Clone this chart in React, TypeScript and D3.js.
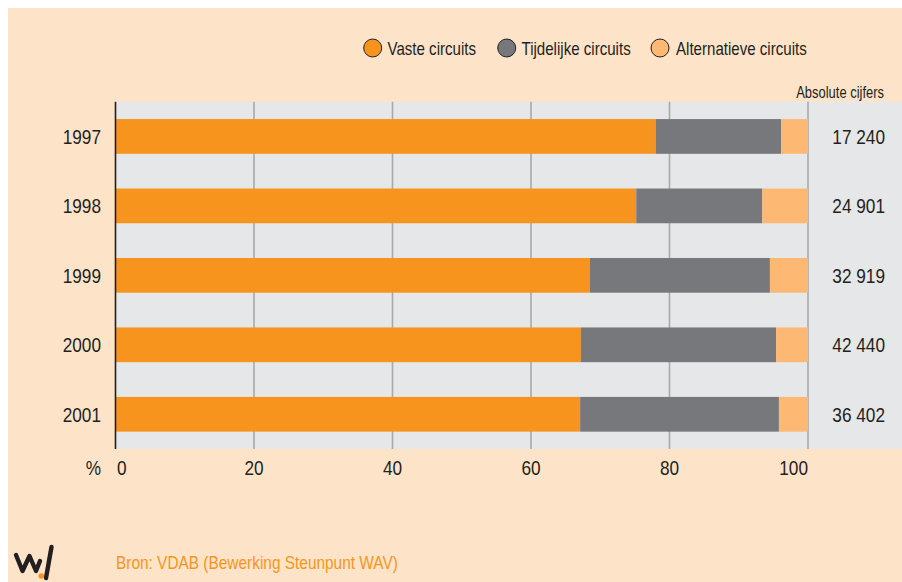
import React from 'react';
import * as d3 from 'd3';

const years = ['1997', '1998', '1999', '2000', '2001'];
const vaste = [78.0, 75.2, 68.5, 67.2, 67.1];
const tijdelijk = [18.1, 18.2, 26.0, 28.2, 28.7];
const alternatief = [3.9, 6.6, 5.5, 4.6, 4.2];
const absolute = ['17 240', '24 901', '32 919', '42 440', '36 402'];
const ticks = [0, 20, 40, 60, 80, 100];
const seriesNames = ['Vaste circuits', 'Tijdelijke circuits', 'Alternatieve circuits'];
const colors = ['#F7941E', '#77787B', '#FDB974'];

const FONT = "'Liberation Sans', Arial, sans-serif";
const SQUEEZE = 0.82;

// narrow text: no condensed face installed, so squeeze horizontally
const NText = ({ x, y, size, anchor = 'start', fill = '#231F20', dy, children }: any) => (
  <text transform={`translate(${x},${y}) scale(${SQUEEZE},1)`} dy={dy} textAnchor={anchor}
    fontFamily={FONT} fontSize={size} fill={fill}>{children}</text>
);

const App = () => {
  const plotLeft = 115.5;
  const plotTop = 101.7;
  const plotBottom = 449;

  const rows = years.map((y, i) => ({ year: y, v: vaste[i], t: tijdelijk[i], a: alternatief[i] }));
  const stack = d3.stack<any>().keys(['v', 't', 'a'])(rows);

  const x = d3.scaleLinear().domain([0, 100]).range([plotLeft, 808]);
  const y = d3.scaleBand().domain(years).range([plotTop, plotBottom]).paddingInner(0.5).paddingOuter(0.25);

  const legendPos = [
    { cx: 372.7, tx: 387.5 },
    { cx: 506.7, tx: 521.5 },
    { cx: 660, tx: 676 },
  ];

  return (
    <svg width={894} height={574} style={{ position: 'absolute', left: 8, top: 8, display: 'block' }}>
      <g transform="translate(-8,-8)">
        <rect x={8} y={8} width={894} height={574} fill="#FDE4C9" />
        <rect x={plotLeft} y={plotTop} width={902 - plotLeft} height={plotBottom - plotTop} fill="#E6E7E8" />

        {ticks.slice(1).map(t => (
          <line key={t} x1={x(t)} x2={x(t)} y1={plotTop} y2={plotBottom} stroke="#A7A9AC" strokeWidth={1.6} />
        ))}

        {stack.map((s, si) => (
          <g key={si} fill={colors[si]}>
            {s.map((d: any) => (
              <rect key={d.data.year} x={x(d[0])} y={y(d.data.year)} width={x(d[1]) - x(d[0])} height={y.bandwidth()} />
            ))}
          </g>
        ))}

        <line x1={plotLeft} x2={plotLeft} y1={plotTop} y2={plotBottom} stroke="#231F20" strokeWidth={1.6} />

        {years.map(yr => (
          <NText key={yr} x={101} y={(y(yr) as number) + y.bandwidth() / 2} dy="0.36em" anchor="end" size={21}>{yr}</NText>
        ))}

        {absolute.map((a, i) => (
          <NText key={a} x={885} y={(y(years[i]) as number) + y.bandwidth() / 2} dy="0.36em" anchor="end" size={21}>{a}</NText>
        ))}

        {ticks.map((t, i) => (
          <NText key={t} x={i === 0 ? x(t) + 1.5 : x(t)} y={474.5} size={21}
            anchor={i === 0 ? 'start' : i === ticks.length - 1 ? 'end' : 'middle'}>{t}</NText>
        ))}
        <NText x={101} y={474.5} anchor="end" size={21}>%</NText>

        <NText x={884} y={98} anchor="end" size={15.8}>Absolute cijfers</NText>

        {seriesNames.map((n, i) => (
          <g key={n}>
            <circle cx={legendPos[i].cx} cy={48} r={9} fill={colors[i]} stroke="#231F20" strokeWidth={1} />
            <NText x={legendPos[i].tx} y={54.5} size={18.4}>{n}</NText>
          </g>
        ))}

        <NText x={116} y={569} size={18.8} fill="#F7941E">Bron: VDAB (Bewerking Steunpunt WAV)</NText>

        <path d="M16,555 L22.5,571 L29.5,556 L36,571 L40,561 M46,578 L51.5,547" fill="none" stroke="#231F20"
          strokeWidth={4.4} strokeLinecap="round" strokeLinejoin="round" />
        <circle cx={41.3} cy={576} r={2.8} fill="#F7941E" />
      </g>
    </svg>
  );
};

export default App;
